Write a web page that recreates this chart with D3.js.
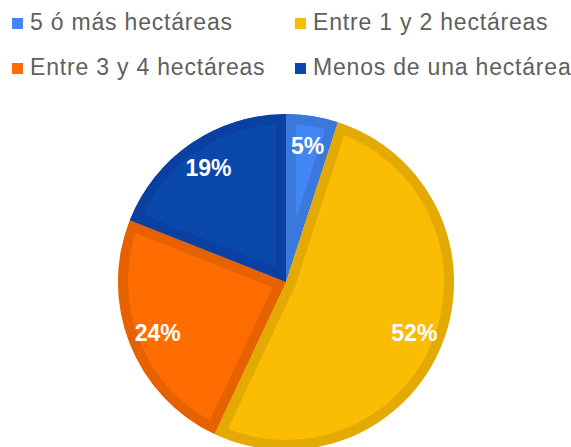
<!DOCTYPE html>
<html>
<head>
<meta charset="utf-8">
<script src="https://cdn.jsdelivr.net/npm/d3@7"></script>
<style>
  body { margin: 0; background: #fff; }
  svg { display: block; font-family: "Liberation Sans", Arial, sans-serif; }
</style>
</head>
<body>
<svg id="chart" width="571" height="447"></svg>
<script>
const categories = ["5 ó más hectáreas", "Entre 1 y 2 hectáreas", "Entre 3 y 4 hectáreas", "Menos de una hectárea"];
const values = [5, 52, 24, 19];
const colors = ["#4285f4", "#fbbc04", "#ff6d01", "#0b48ac"];
const borders = ["#3b78dc", "#e3aa04", "#e66201", "#0a41a0"];

let svg = d3.select("#chart"),
    cx = 286, cy = 282, radius = 168;

// legend, two columns
const legendPos = [[12, 30], [295, 30], [12, 75], [295, 75]];
const legend = svg.append("g").selectAll("g").data(categories).enter()
    .append("g")
    .attr("transform", (d, i) => "translate(" + legendPos[i][0] + "," + legendPos[i][1] + ")");
legend.append("rect")
    .attr("x", 0).attr("y", -12).attr("width", 11).attr("height", 11)
    .attr("fill", (d, i) => colors[i]);
legend.append("text")
    .attr("x", 18).attr("y", 0)
    .attr("font-size", "23px")
    .attr("letter-spacing", "0.8px")
    .attr("fill", "#5f5f5f")
    .text(d => d);

let pie = d3.pie().sort(null).value(d => d);
let arc = d3.arc().innerRadius(0).outerRadius(radius);
let labelArc = d3.arc().innerRadius(138).outerRadius(138);

const g = svg.append("g").attr("transform", "translate(" + cx + "," + cy + ")");
const slices = pie(values);

g.append("defs").selectAll("clipPath").data(slices).enter()
    .append("clipPath")
    .attr("id", (d, i) => "clip" + i)
    .append("path")
    .attr("d", arc);

g.selectAll("path.slice").data(slices).enter()
    .append("path")
    .classed("slice", true)
    .attr("d", arc)
    .attr("fill", (d, i) => colors[i])
    .attr("stroke", (d, i) => borders[i])
    .attr("stroke-width", 20)
    .attr("stroke-linejoin", "miter")
    .attr("clip-path", (d, i) => "url(#clip" + i + ")");

g.selectAll("text.pct").data(slices).enter()
    .append("text")
    .classed("pct", true)
    .attr("transform", d => "translate(" + labelArc.centroid(d) + ")")
    .attr("text-anchor", "middle")
    .attr("dy", "0.35em")
    .attr("font-size", "23px")
    .attr("font-weight", "700")
    .attr("fill", "#fff")
    .text(d => d.data + "%");
</script>
</body>
</html>
